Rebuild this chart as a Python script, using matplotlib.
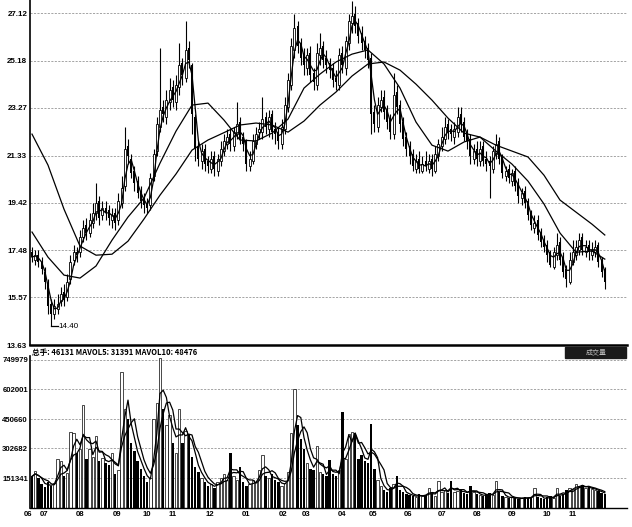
import matplotlib
matplotlib.use('Agg')
import matplotlib.pyplot as plt
from matplotlib.patches import Rectangle
import numpy as np
import pandas as pd

plt.rcParams['font.family'] = ['Liberation Sans', 'DejaVu Sans']

# ---------------- data (one bar ~ two trading days) ----------------
opens = [17.4,17.1,17.3,17.0,16.6,16.1,15.3,14.9,15.1,15.4,
         15.8,15.6,16.3,17.1,17.4,17.4,18.0,18.5,18.2,18.6,
         19.0,19.5,18.9,19.2,19.1,18.7,19.0,18.7,19.4,20.1,
         21.7,21.2,20.7,20.3,19.9,19.6,19.4,19.3,20.5,21.5,
         22.5,23.3,22.9,23.5,24.1,23.5,24.1,25.1,24.5,25.7,
         25.0,22.9,21.7,21.1,21.6,21.1,20.8,21.3,20.7,21.1,
         21.5,21.8,22.2,21.7,22.2,22.7,22.1,21.9,20.9,21.1,
         21.8,22.3,22.3,22.9,22.4,23.0,22.4,22.3,21.8,22.4,
         23.3,24.2,25.6,26.6,25.9,25.4,24.9,25.5,24.7,24.2,
         25.4,25.8,25.3,25.1,24.9,24.5,24.2,25.5,24.9,25.9,
         26.7,27.1,26.7,26.3,26.0,25.7,25.3,23.1,22.5,23.3,
         23.7,23.2,22.8,22.2,23.9,23.4,22.7,22.1,21.7,21.4,
         20.8,21.2,20.7,21.1,20.8,21.2,20.7,21.3,21.7,22.0,
         22.6,22.4,22.1,22.3,23.0,22.7,22.2,22.0,21.2,21.6,
         21.1,21.7,21.2,21.1,20.8,21.4,21.9,21.3,20.5,20.8,
         20.3,20.7,20.2,19.6,19.9,19.5,19.0,18.4,18.7,18.2,
         17.9,17.7,17.4,16.8,17.3,17.8,17.2,16.7,16.2,17.0,
         17.3,17.5,18.0,17.4,17.7,17.3,17.4,17.7,17.1,16.7]
highs = [17.6,17.5,17.5,17.2,16.8,16.3,15.5,15.5,15.7,16.0,
         16.1,16.5,17.3,17.7,17.6,18.3,18.7,18.8,19.0,19.4,
         20.2,19.7,19.5,19.5,19.3,19.2,19.2,19.8,20.5,22.5,
         22.0,21.4,20.9,20.5,20.1,19.8,19.6,20.6,21.6,22.9,
         25.7,23.6,24.0,24.5,24.4,24.6,25.9,25.3,26.8,26.0,
         25.1,23.0,21.9,21.8,21.8,21.3,21.5,21.5,21.4,21.9,
         22.2,22.4,22.4,22.5,23.5,22.9,22.3,22.0,21.5,22.2,
         22.5,22.7,23.7,23.1,23.2,23.2,22.7,22.5,22.8,23.7,
         24.7,26.1,27.1,26.8,26.1,25.7,25.7,25.8,24.9,25.9,
         26.3,26.0,25.6,25.3,25.1,24.8,25.7,25.8,26.2,27.1,
         27.6,27.4,26.9,26.6,26.2,25.9,25.5,23.4,23.7,24.0,
         24.0,23.4,23.0,24.7,24.2,23.6,22.9,22.3,21.9,21.6,
         21.4,21.5,21.3,21.5,21.4,21.4,21.7,22.0,22.5,22.9,
         22.8,22.6,22.7,23.3,23.3,22.9,22.4,22.2,21.8,21.9,
         21.9,21.9,21.5,21.3,21.7,22.2,22.1,21.4,20.9,21.0,
         20.8,20.9,20.4,20.0,20.1,19.6,19.1,18.9,18.9,18.4,
         18.1,17.9,17.5,17.6,18.2,18.0,17.4,16.9,17.4,17.9,
         17.9,18.2,18.2,17.9,17.9,17.8,17.9,17.8,17.2,16.8]
lows = [17.0,16.9,16.8,16.5,15.9,14.9,14.4,14.7,14.9,15.2,
        15.2,15.4,16.1,16.9,17.0,17.2,17.8,17.9,18.0,18.4,
        18.7,18.5,18.7,18.7,18.5,18.4,18.3,18.5,19.2,19.9,
        21.0,20.4,19.9,19.6,19.2,19.0,19.0,19.1,20.3,21.3,
        22.3,22.7,22.6,23.2,23.3,23.2,23.8,24.2,24.3,24.9,
        22.2,21.1,20.9,20.8,20.7,20.6,20.6,20.5,20.5,20.9,
        21.3,21.6,21.5,21.5,22.0,21.8,21.5,20.7,20.7,21.0,
        21.6,22.0,22.0,22.2,22.1,22.0,21.8,21.6,21.6,22.2,
        23.1,24.0,25.3,25.5,25.0,24.6,24.6,24.3,24.0,24.0,
        25.0,24.9,24.7,24.5,24.1,24.0,24.0,24.7,24.6,25.6,
        26.3,26.3,25.9,25.6,25.3,24.9,22.2,22.3,22.3,23.1,
        22.8,22.4,22.0,22.0,23.0,22.3,21.7,21.3,21.0,20.7,
        20.6,20.6,20.6,20.7,20.6,20.5,20.6,21.1,21.5,21.8,
        22.0,21.9,21.8,22.1,22.3,21.9,21.6,21.0,21.0,20.9,
        20.9,20.9,20.7,19.6,20.6,21.2,21.0,20.4,20.3,20.2,
        20.1,19.9,19.4,19.3,19.2,18.7,18.3,18.2,17.9,17.6,
        17.4,17.0,16.8,16.7,17.1,16.9,16.4,16.0,16.1,16.9,
        17.1,17.3,17.3,17.2,17.1,17.1,17.2,16.8,16.4,15.9]
closes = [17.2,17.3,17.0,16.7,16.2,15.2,14.9,15.2,15.3,15.7,
          15.5,16.2,17.0,17.4,17.3,18.0,18.4,18.2,18.7,19.0,
          19.4,18.8,19.2,19.0,18.8,18.9,18.6,19.5,20.0,21.6,
          21.3,20.6,20.2,19.8,19.5,19.3,19.2,20.4,21.4,22.6,
          23.2,23.0,23.6,24.0,23.6,24.2,25.0,24.6,25.6,25.2,
          23.0,21.6,21.2,21.5,21.0,20.9,21.2,20.8,21.2,21.6,
          21.9,22.1,21.8,22.3,22.6,22.0,21.8,21.0,21.2,21.9,
          22.2,22.4,22.8,22.5,22.9,22.3,22.2,21.9,22.5,23.4,
          24.4,25.8,26.5,25.8,25.3,25.0,25.4,24.6,24.3,25.5,
          25.7,25.2,25.0,24.8,24.4,24.3,25.4,25.0,26.0,26.8,
          27.0,26.6,26.2,25.9,25.6,25.2,23.0,22.6,23.4,23.6,
          23.1,22.7,22.3,23.8,23.3,22.6,22.0,21.6,21.3,20.9,
          21.1,20.8,21.0,20.9,21.1,20.8,21.4,21.8,22.1,22.5,
          22.3,22.2,22.4,22.9,22.6,22.1,21.9,21.3,21.5,21.2,
          21.6,21.1,21.0,20.9,21.5,21.8,21.2,20.6,20.7,20.4,
          20.6,20.1,19.7,19.8,19.4,18.9,18.5,18.6,18.1,17.8,
          17.6,17.3,16.9,17.4,17.7,17.1,16.6,16.3,17.1,17.4,
          17.6,17.9,17.5,17.6,17.4,17.5,17.6,17.0,16.6,16.2]
volumes_k = [160,185,150,120,105,130,110,125,250,240,
             160,175,385,380,280,300,520,250,300,260,
             365,240,255,230,220,280,170,190,690,500,
             450,330,290,240,200,160,130,150,450,530,
             760,500,420,470,330,280,500,330,390,370,
             260,210,180,150,130,110,120,100,130,150,
             170,140,280,160,140,210,130,110,120,140,
             130,195,270,160,150,170,140,130,110,125,
             180,380,605,420,350,300,230,200,190,315,
             180,170,160,245,170,160,190,485,250,375,
             385,380,250,270,240,230,425,200,140,110,
             90,80,100,120,160,90,80,70,65,60,
             55,70,60,65,100,70,60,135,80,90,
             75,135,80,85,90,75,70,110,80,70,
             65,60,70,75,65,135,80,60,55,50,
             55,50,45,50,55,50,55,100,55,50,
             45,55,60,50,100,60,70,90,100,95,
             120,110,115,100,105,95,90,85,75,70]

# moving-average lines (bar index -> value)
ma_idx = [0,5,10,15,20,25,30,35,40,45,50,55,60,65,70,75,80,85,90,95,
          100,105,110,115,120,125,130,135,140,145,150,155,160,165,170,175,179]
ma_mid = [18.22,17.20,16.47,16.35,16.84,17.89,18.83,19.60,21.02,22.32,
          23.38,23.46,22.77,21.96,21.92,22.24,22.81,24.07,24.64,25.13,
          25.45,25.62,25.05,24.07,22.69,21.75,21.51,21.88,22.08,21.51,
          20.98,20.29,19.36,18.18,17.40,17.45,17.12]
ma_long = [22.20,20.94,19.15,17.65,17.28,17.32,17.85,18.75,19.72,20.58,
           21.55,21.96,22.26,22.57,22.65,22.57,22.28,22.73,23.38,23.91,
           24.56,25.05,25.13,24.80,24.23,23.58,22.85,22.24,22.08,21.75,
           21.51,21.27,20.53,19.52,19.03,18.54,18.10]

price_ticks = [13.63, 15.57, 17.48, 19.42, 21.33, 23.27, 25.18, 27.12]
vol_ticks = [151341, 302682, 450660, 602001, 749979]
month_labels = ['06','07','08','09','10','11','12','01','02','03',
                '04','05','06','07','08','09','10','11']
month_pos = [-1.4, 3.75, 15.0, 26.5, 36.0, 44.0, 55.6, 67.0, 78.4, 85.6,
             97.0, 106.5, 117.5, 128.0, 139.0, 150.0, 161.0, 169.0]
low_label = '14.40'
header_text = '总手: 46131 MAVOL5: 31391 MAVOL10: 48476'
box_text = '成交量'

# ---------------- figure ----------------
W, H = 632, 527
fig = plt.figure(figsize=(W / 100, H / 100), dpi=100)

def rect(x0, y0, x1, y1):
    return [x0 / W, 1 - y1 / H, (x1 - x0) / W, (y1 - y0) / H]

axp = fig.add_axes(rect(30, 0, 627, 345))
axv = fig.add_axes(rect(30, 356, 627, 508))

o = np.array(opens); h = np.array(highs); l = np.array(lows); c = np.array(closes)
x = np.arange(len(c))
up = c >= o
xlim = (-2 / 3.2, (627 - 32) / 3.2)

grid_kw = dict(color='#808080', lw=0.5, ls=(0, (3, 2)))

# price panel
axp.set_xlim(*xlim)
axp.set_ylim(13.63, 27.65)
axp.set_yticks(price_ticks)
axp.set_yticklabels([f'{t:.2f}' for t in price_ticks], fontsize=5.8, fontweight='bold')
axp.tick_params(axis='y', length=0, pad=2)
axp.set_xticks([])
for t in price_ticks[1:]:
    axp.axhline(t, zorder=0, **grid_kw)
for s in ['top', 'right']:
    axp.spines[s].set_visible(False)
axp.spines['left'].set_linewidth(1.2)
axp.spines['bottom'].set_linewidth(1.8)

axp.vlines(x, l, h, color='black', lw=0.8, zorder=2)
body_bot = np.minimum(o, c)
body_h = np.maximum(np.abs(c - o), 0.04)
axp.bar(x[up], body_h[up], bottom=body_bot[up], width=0.6, facecolor='white',
        edgecolor='black', lw=0.6, zorder=3)
axp.bar(x[~up], body_h[~up], bottom=body_bot[~up], width=0.6, color='black', zorder=3)

ma_short = pd.Series(closes).rolling(3, min_periods=1).mean()
axp.plot(x, ma_short, color='black', lw=0.9, zorder=4)
axp.plot(ma_idx, ma_mid, color='black', lw=0.9, zorder=4)
axp.plot(ma_idx, ma_long, color='black', lw=0.9, zorder=4)

ilow = int(np.argmin(l))
axp.plot([ilow, ilow + 2], [l[ilow], l[ilow]], color='black', lw=0.9, zorder=4)
axp.text(ilow + 2.2, l[ilow], low_label, fontsize=5.8, va='center', ha='left')

# volume panel
vol = np.array(volumes_k) * 1000.0
axv.set_xlim(*xlim)
axv.set_ylim(0, 770000)
axv.set_yticks(vol_ticks)
axv.set_yticklabels([str(t) for t in vol_ticks], fontsize=5.6, fontweight='bold')
axv.tick_params(axis='y', length=0, pad=1.5)
axv.set_xticks([])
for t in vol_ticks:
    axv.axhline(t, zorder=0, **grid_kw)
for s in ['top', 'right']:
    axv.spines[s].set_visible(False)
axv.spines['left'].set_linewidth(1.2)
axv.spines['bottom'].set_linewidth(1.0)
axv.bar(x[up], vol[up], width=0.7, facecolor='white', edgecolor='black', lw=0.5, zorder=2)
axv.bar(x[~up], vol[~up], width=0.7, color='black', zorder=2)
mavol5 = pd.Series(vol).rolling(3, min_periods=1).mean()
mavol10 = pd.Series(vol).rolling(5, min_periods=1).mean()
axv.plot(x, mavol5, color='black', lw=0.9, zorder=3)
axv.plot(x, mavol10, color='black', lw=0.9, zorder=3)

tr = axv.get_xaxis_transform()
for lab, p in zip(month_labels, month_pos):
    axv.text(p, -0.045, lab, transform=tr, ha='center', va='center',
             fontsize=5.6, fontweight='bold', clip_on=False)

# header strip between panels
fig.text(32 / W, 1 - 352 / H, header_text, fontsize=5.5, fontweight='bold',
         family=['Noto Sans CJK SC', 'DejaVu Sans'], va='center', ha='left')
fig.patches.append(Rectangle((565 / W, 1 - 358 / H), 61 / W, 11 / H,
                             transform=fig.transFigure, color='#1a1a1a'))
fig.text(596 / W, 1 - 352.5 / H, box_text, fontsize=5, color='#bbbbbb',
         family=['Noto Sans CJK SC', 'DejaVu Sans'], va='center', ha='center')

fig.savefig('out.png', dpi=100)
